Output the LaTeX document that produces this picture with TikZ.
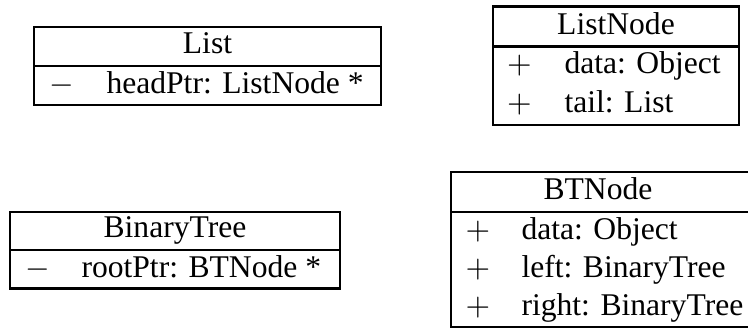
\documentclass[tikz,border=0pt]{standalone}
\usepackage{fontspec}
\setmainfont{Liberation Serif}
\begin{document}
\begin{tikzpicture}[x=1pt,y=-1pt,
  frame/.style={draw, line width=2.4pt, inner sep=0pt, outer sep=0pt, anchor=north west},
  rule/.style={line width=2.4pt},
  txt/.style={inner sep=0pt, outer sep=0pt, font=\fontsize{31.6}{38}\selectfont},
  title/.style={txt, anchor=base},
  attr/.style={txt, anchor=base west},
  sign/.style={inner sep=0pt, outer sep=0pt, anchor=base, scale=3.16}]
\clip (0,0) rectangle (748,329);

% ---- class List ----
\node[frame, minimum width=347pt, minimum height=78pt] (list) at (34,27.3) {};
\draw[rule] (list.west |- 0,66) -- (list.east |- 0,66);
\node[title] (list-name) at (207.5,54) {List};
\node[sign] (list-s1) at (61.5,93.6) {$-$};
\node[attr] (list-a1) at (106.5,93.6) {headPtr: ListNode *};

% ---- class ListNode ----
\node[frame, minimum width=246pt, minimum height=118.3pt] (lnode) at (493,6.7) {};
\draw[rule] (lnode.west |- 0,46.7) -- (lnode.east |- 0,46.7);
\node[title] (lnode-name) at (616,34.5) {ListNode};
\node[sign] (lnode-s1) at (519.5,73.8) {$+$};
\node[attr] (lnode-a1) at (564.5,73.8) {data: Object};
\node[sign] (lnode-s2) at (519.5,112.8) {$+$};
\node[attr] (lnode-a2) at (564.5,112.8) {tail: List};

% ---- class BinaryTree ----
\node[frame, minimum width=330pt, minimum height=76.6pt] (btree) at (10,211.7) {};
\draw[rule] (btree.west |- 0,250) -- (btree.east |- 0,250);
\node[title] (btree-name) at (175,237) {BinaryTree};
\node[sign] (btree-s1) at (37.5,277) {$-$};
\node[attr] (btree-a1) at (81.5,277) {rootPtr: BTNode *};

% ---- class BTNode (runs past the right edge) ----
\node[frame, minimum width=320pt, minimum height=154.7pt] (btnode) at (451,172) {};
\draw[rule] (btnode.west |- 0,211.7) -- (btnode.east |- 0,211.7);
\node[title] (btnode-name) at (598,199) {BTNode};
\node[sign] (btnode-s1) at (478,239) {$+$};
\node[attr] (btnode-a1) at (521.5,239) {data: Object};
\node[sign] (btnode-s2) at (478,277) {$+$};
\node[attr] (btnode-a2) at (521.5,277) {left: BinaryTree};
\node[sign] (btnode-s3) at (478,315) {$+$};
\node[attr] (btnode-a3) at (521.5,315) {right: BinaryTree};
\end{tikzpicture}
\end{document}
